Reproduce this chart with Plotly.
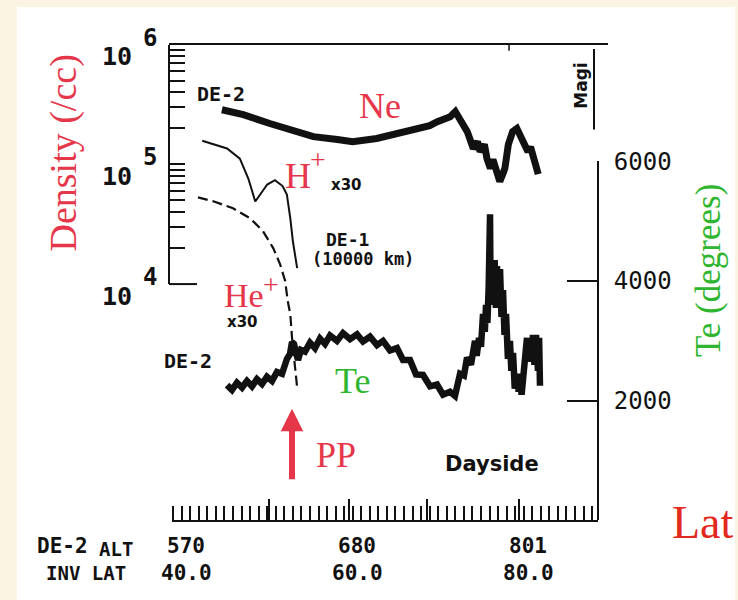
import plotly.graph_objects as go

W, H = 738, 600

# ---------------- data ----------------
# Ne (DE-2), density /cc vs invariant latitude
ne_lat = [44.2, 46.7, 49.8, 52.5, 54.9, 57.7, 59.5, 62.3, 65.0, 66.2, 67.4, 68.5, 69.4, 70.3,
          70.9, 71.5, 71.8, 72.9, 73.6, 74.1, 74.4, 74.9, 75.2, 75.6, 75.9, 76.4, 76.7, 77.1,
          77.3, 77.7, 78.2, 78.7, 79.1, 79.4, 79.8, 80.0, 80.3, 80.6, 80.9, 81.2]
ne_val = [2.87e5, 2.61e5, 2.20e5, 1.96e5, 1.71e5, 1.62e5, 1.55e5, 1.65e5, 1.81e5, 1.90e5,
          2.00e5, 2.11e5, 2.28e5, 2.42e5, 2.51e5, 2.77e5, 2.51e5, 1.88e5, 1.36e5, 1.55e5,
          1.28e5, 1.47e5, 1.12e5, 9.3e4, 1.10e5, 8.3e4, 7.2e4, 8.5e4, 9.3e4, 1.47e5, 1.88e5,
          2.00e5, 1.75e5, 1.65e5, 1.45e5, 1.28e5, 1.40e5, 1.12e5, 1.00e5, 8.3e4]

# H+ x30 (DE-1, 10000 km)
hp_lat = [41.9, 44.8, 46.3, 47.3, 48.1, 48.7, 49.5, 50.4, 51.3, 51.8, 52.2, 52.5, 53.0]
hp_val = [1.58e5, 1.36e5, 1.12e5, 7.6e4, 4.9e4, 5.6e4, 6.8e4, 7.4e4, 6.6e4, 5.6e4,
          3.55e4, 2.28e4, 1.36e4]

# He+ x30 (DE-1)
hep_lat = [41.4, 43.2, 45.5, 47.5, 49.0, 50.2, 51.0, 51.6, 51.9, 52.2, 52.4, 52.7, 53.0]
hep_val = [5.31e4, 4.92e4, 4.30e4, 3.55e4, 2.77e4, 2.0e4, 1.47e4, 1.06e4, 7.2e3, 5.6e3,
           3.55e3, 2.28e3, 1.36e3]

# Te (DE-2), degrees
te_lat = [44.80, 45.38, 45.96, 46.55, 47.13, 47.72, 48.30, 48.89, 49.47, 50.06, 50.64, 51.23,
          51.81, 52.16, 52.40, 52.63, 52.87, 53.10, 53.45, 53.92, 54.50, 55.09, 55.67, 56.26,
          56.84, 57.66, 58.36, 59.18, 60.00, 60.70, 61.52, 62.34, 63.04, 63.86, 64.68, 65.38,
          66.20, 66.90, 67.72, 68.54, 69.36, 70.06, 70.88, 71.46, 72.05, 72.51, 72.87, 73.33,
          73.80, 74.00, 74.27, 74.50, 74.74, 74.95, 75.09, 75.25, 75.40, 75.56, 75.62, 75.80,
          75.95, 76.10, 76.25, 76.37, 76.55, 76.73, 76.90, 77.08, 77.25, 77.43, 77.65, 77.89,
          78.05, 78.25, 78.45, 78.71, 78.90, 79.06, 79.25, 79.42, 79.60, 79.88, 80.05, 80.23,
          80.40, 80.58, 80.75, 80.94, 81.17, 81.30, 81.40]
te_val = [2260, 2180, 2300, 2220, 2330, 2240, 2360, 2280, 2400, 2330, 2480, 2450,
          2700, 2780, 2980, 2950, 2800, 2680, 2850, 2820, 2970, 2880, 3040, 2950,
          3090, 3000, 3130, 3030, 3110, 2990, 3070, 2930, 3000, 2840, 2880, 2680,
          2680, 2440, 2430, 2240, 2270, 2100, 2150, 2080, 2450, 2420, 2720, 2600,
          3000, 2750, 3050, 2900, 3450, 3150, 3600, 3300, 3900, 5117, 3700, 4300,
          3600, 4350, 3550, 4250, 3700, 4200, 3400, 3850, 3100, 3450, 2700, 3000,
          2500, 2800, 2200, 2450, 2150, 2450, 2100, 2350, 2800, 3050, 2700, 3050,
          2650, 3100, 2600, 3100, 2500, 3050, 2250]

density_tick_exps = [6, 5, 4]
te_ticks = [2000, 4000, 6000]
te_ticktext = ["2000", "4000", "6000"]
inv_lat_ticks = [40.0, 60.0, 80.0]
inv_lat_text = ["40.0", "60.0", "80.0"]
alt_text = ["570", "680", "801"]

# ---------------- layout geometry (pixels) ----------------
SY = 0.98   # vertical compensation observed in the rendered picture


def fx(x):
    return x / W


def fy(y):
    return (H - y) / (H * SY)


LAT0_PX, PX_PER_DEG = 186.0, 8.55          # lat 40 at x=186 px
X_LEFT, X_RIGHT = 172, 598


def lat_of(px):
    return 40 + (px - LAT0_PX) / PX_PER_DEG


Y_TOP_DEN, PX_PER_DEC = 43, 120.0            # 10^6 at y=43
Y_BOT = 520
Y_TE_TOP = 160

RED = "#e5364a"
RED2 = "#e3281e"
GREEN = "#2fb52f"
INK = "#111111"
MONO = "DejaVu Sans Mono"
SERIF = "Liberation Serif"

fig = go.Figure()
fig.add_trace(go.Scatter(x=hep_lat, y=hep_val, xaxis="x", yaxis="y", mode="lines",
                         line=dict(color=INK, width=2.2, dash="10px,5px")))
fig.add_trace(go.Scatter(x=ne_lat, y=ne_val, xaxis="x", yaxis="y2", mode="lines",
                         line=dict(color=INK, width=7)))
fig.add_trace(go.Scatter(x=hp_lat, y=hp_val, xaxis="x", yaxis="y2", mode="lines",
                         line=dict(color=INK, width=2)))
fig.add_trace(go.Scatter(x=te_lat, y=te_val, xaxis="x", yaxis="y3", mode="lines",
                         line=dict(color=INK, width=6.5)))

ann = []


def txt(x, y, s, size, color=INK, family=MONO, angle=0, bold=False):
    ann.append(dict(x=fx(x), y=fy(y), xref="paper", yref="paper", text=s, showarrow=False,
                    textangle=angle, xanchor="center", yanchor="middle",
                    font=dict(size=size, color=color, family=family,
                              weight="bold" if bold else "normal")))


# axis titles / labels
txt(64, 152, "Density (/cc)", 38, RED, SERIF, angle=-90)
txt(708, 270, "Te (degrees)", 35, GREEN, SERIF, angle=-90)
txt(703, 522, "Lat", 46, RED2, SERIF)
# curve labels
txt(380, 104, "Ne", 36, RED, SERIF)
txt(298, 175, "H", 36, RED, SERIF)
txt(318, 158, "+", 28, RED, SERIF)
txt(346, 184, "x30", 15, INK, "DejaVu Sans", bold=True)
txt(244, 294, "He", 34, RED, SERIF)
txt(271, 283, "+", 28, RED, SERIF)
txt(242, 321, "x30", 15, INK, "DejaVu Sans", bold=True)
txt(352, 380, "Te", 36, GREEN, SERIF)
txt(336, 455, "PP", 36, RED, SERIF)
txt(221, 92, "DE-2", 20, INK, MONO, bold=True)
txt(347, 238, "DE-1", 18, INK, MONO, bold=True)
txt(363, 258, "(10000 km)", 17, INK, MONO, bold=True)
txt(188, 360, "DE-2", 20, INK, MONO, bold=True)
txt(492, 464, "Dayside", 21, INK, "DejaVu Sans", bold=True)
txt(581, 84, "Magi", 17, INK, "DejaVu Sans", angle=-90, bold=True)
# bottom row labels
txt(62, 546, "DE-2", 21, INK, MONO, bold=True)
txt(116, 549, "ALT", 19, INK, MONO, bold=True)
txt(86, 573, "INV LAT", 19, INK, MONO, bold=True)
for v, a, l in zip(inv_lat_ticks, alt_text, inv_lat_text):
    ann.append(dict(x=v, xref="x", y=fy(546), yref="paper", text=a, showarrow=False,
                    xanchor="center", yanchor="middle",
                    font=dict(size=21, family=MONO, color=INK, weight="bold")))
    ann.append(dict(x=v, xref="x", y=fy(573), yref="paper", text=l, showarrow=False,
                    xanchor="center", yanchor="middle",
                    font=dict(size=21, family=MONO, color=INK, weight="bold")))
# density decade labels  10^n
for e in density_tick_exps:
    ann.append(dict(x=fx(117), xref="paper", y=e, yref="y2", yshift=-12, text="10",
                    xanchor="center", yanchor="middle", showarrow=False,
                    font=dict(size=25, family=MONO, color=INK, weight="bold")))
    ann.append(dict(x=fx(150), xref="paper", y=e, yref="y2", yshift=7, text=str(e),
                    xanchor="center", yanchor="middle", showarrow=False,
                    font=dict(size=24, family=MONO, color=INK, weight="bold")))
# PP arrow
ann.append(dict(x=fx(292), y=fy(408), xref="paper", yref="paper", ax=0, ay=72,
                showarrow=True, text="", arrowhead=2, arrowsize=0.75, arrowwidth=6,
                arrowcolor=RED))

shapes = [
    dict(type="rect", xref="paper", yref="paper", x0=fx(17), x1=fx(735), y0=0, y1=fy(5),
         fillcolor="white", line=dict(width=0), layer="below"),
    dict(type="line", xref="paper", yref="paper", x0=fx(169), x1=fx(608), y0=fy(42), y1=fy(42),
         line=dict(color=INK, width=2)),
    dict(type="line", xref="paper", yref="paper", x0=fx(509), x1=fx(509), y0=fy(42), y1=fy(49),
         line=dict(color=INK, width=1.5)),
    dict(type="line", xref="paper", yref="paper", x0=fx(594), x1=fx(594), y0=fy(47), y1=fy(128),
         line=dict(color=INK, width=2)),
    dict(type="line", xref="paper", yref="paper", x0=fx(169), x1=fx(197), y0=fy(283), y1=fy(283),
         line=dict(color=INK, width=2)),
]

ruler_major_px = [269, 349, 427, 519]

fig.update_layout(
    width=W, height=H, margin=dict(l=0, r=0, t=0, b=0),
    paper_bgcolor="#fcf4e2", plot_bgcolor="rgba(0,0,0,0)",
    showlegend=False, hovermode=False,
    annotations=ann, shapes=shapes,
    xaxis=dict(domain=[fx(X_LEFT), fx(X_RIGHT)], range=[lat_of(X_LEFT), lat_of(X_RIGHT)],
               anchor="y3", showline=True, linecolor=INK, linewidth=2, showgrid=False,
               zeroline=False, ticks="inside", ticklen=21, tickwidth=1.8, tickcolor=INK,
               tickvals=[lat_of(p) for p in ruler_major_px], showticklabels=False,
               minor=dict(ticks="inside", ticklen=14, tickwidth=1.6, tickcolor=INK,
                          dtick=1, tick0=38.5, showgrid=False)),
    yaxis=dict(type="log", domain=[fy(Y_BOT), fy(Y_TOP_DEN)],
               range=[6 - (Y_BOT - Y_TOP_DEN) / PX_PER_DEC, 6], visible=False, anchor="x"),
    yaxis2=dict(type="log", domain=[fy(283), fy(Y_TOP_DEN)], range=[4, 6], anchor="free",
                position=fx(169), showline=True, linecolor=INK, linewidth=2, showgrid=False,
                zeroline=False, ticks="inside", ticklen=15, tickwidth=2, tickcolor=INK,
                dtick="D1", showticklabels=False),
    yaxis3=dict(domain=[fy(Y_BOT), fy(Y_TE_TOP)],
                range=[0, 2000 * (Y_BOT - Y_TE_TOP) / 120], anchor="free", position=fx(598),
                side="right", showline=True, linecolor=INK, linewidth=2, showgrid=False,
                zeroline=False, ticks="inside", ticklen=30, tickwidth=2, tickcolor=INK,
                tickvals=te_ticks, ticktext=te_ticktext, ticklabelstandoff=10,
                tickfont=dict(family=MONO, size=24, color=INK)),
)

fig.write_html("out.html")
